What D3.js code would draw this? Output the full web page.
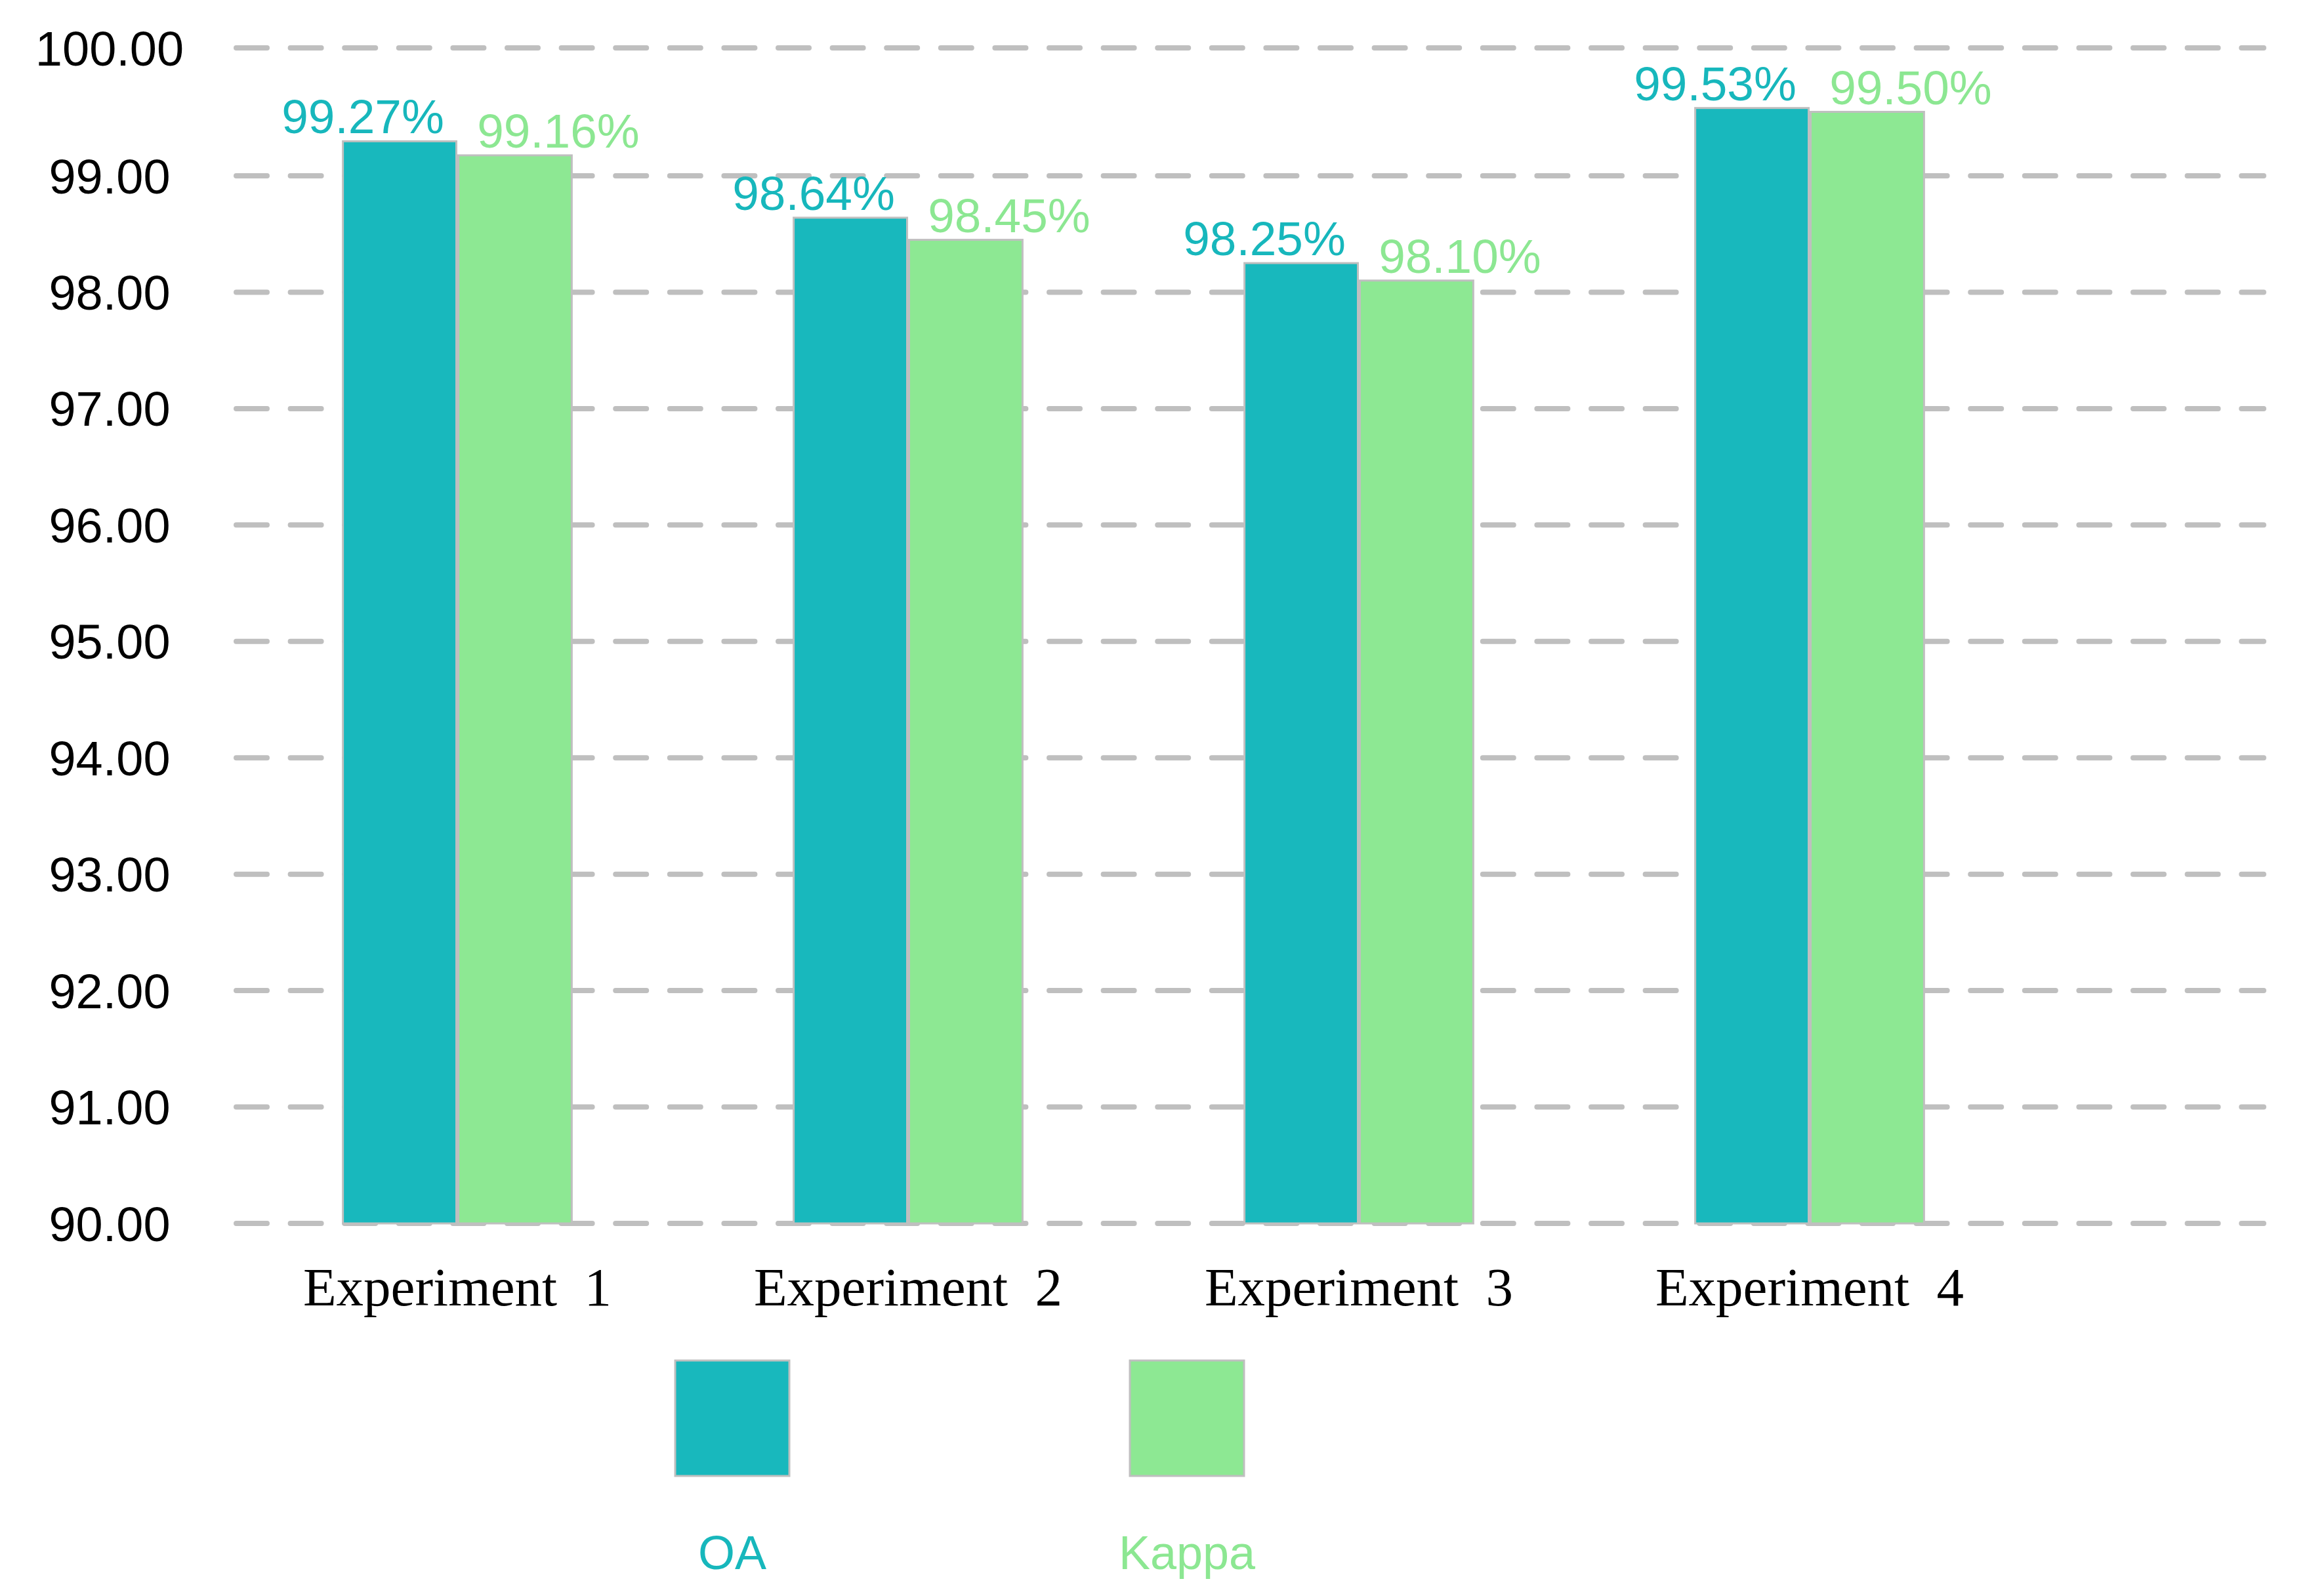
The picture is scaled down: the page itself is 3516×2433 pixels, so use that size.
<!DOCTYPE html>
<html>
<head>
<meta charset="utf-8">
<script src="https://cdn.jsdelivr.net/npm/d3@7"></script>
<style>
  html, body { margin: 0; padding: 0; background: #ffffff; }
  svg { display: block; }
</style>
</head>
<body>
<svg id="chart" width="3516" height="2433"></svg>
<script>
// ---- data ----
const categories = ["Experiment  1", "Experiment  2", "Experiment  3", "Experiment  4"];
const seriesNames = ["OA", "Kappa"];
const oaValues = [99.27, 98.64, 98.25, 99.53];
const kappaValues = [99.16, 98.45, 98.10, 99.50];
const yTicks = [90, 91, 92, 93, 94, 95, 96, 97, 98, 99, 100];

// ---- styles ----
const colors = { OA: "#18B8BD", Kappa: "#8DE893" };
const labelColors = { OA: "#17B7BC", Kappa: "#8CE792" };
const gridColor = "#BFBFBF";

const W = 3516, H = 2433;
const svg = d3.select("#chart").attr("viewBox", `0 0 ${W} ${H}`);
svg.append("rect").attr("width", W).attr("height", H).attr("fill", "#fff");

// y scale (axis ticks in reference: 90..99 evenly spaced, 100 set a bit further up)
const y = d3.scaleLinear().domain([90, 99, 100]).range([1865, 268, 73]);

// x scale for groups
const x0 = d3.scaleBand().domain(categories)
  .range([353.5, 3101.5]).paddingInner(0.488).paddingOuter(0.244);
const x1 = d3.scaleBand().domain(seriesNames).range([0, x0.bandwidth()]).padding(0);

// gridlines
const gridX0 = 360, gridX1 = 3450;
svg.append("g").selectAll("line").data(yTicks).join("line")
  .attr("x1", gridX0).attr("x2", gridX1)
  .attr("y1", d => y(d)).attr("y2", d => y(d))
  .attr("stroke", gridColor).attr("stroke-width", 8)
  .attr("stroke-linecap", "round").attr("stroke-dasharray", "47 35.6");

// y tick labels
svg.append("g").selectAll("text").data(yTicks).join("text")
  .attr("x", 167).attr("y", d => y(d) + 26.5)
  .attr("text-anchor", "middle")
  .attr("font-family", "'Liberation Sans', Arial, sans-serif")
  .attr("font-size", 74).attr("fill", "#000")
  .text(d => d3.format(".2f")(d));

// bars
const rows = categories.map((c, i) => ({ cat: c, vals: [
  { s: "OA", v: oaValues[i] }, { s: "Kappa", v: kappaValues[i] }] }));

const groups = svg.append("g").selectAll("g").data(rows).join("g")
  .attr("transform", d => `translate(${x0(d.cat)},0)`);

groups.selectAll("rect").data(d => d.vals).join("rect")
  .attr("x", d => x1(d.s) + 1.5)
  .attr("width", x1.bandwidth() - 3)
  .attr("y", d => y(d.v))
  .attr("height", d => y(90) - y(d.v))
  .attr("fill", d => colors[d.s])
  .attr("stroke", gridColor).attr("stroke-width", 3);

// value labels
const labelOffset = { OA: -56, Kappa: 66 };
groups.selectAll("text").data(d => d.vals).join("text")
  .attr("x", d => x1(d.s) + x1.bandwidth() / 2 + labelOffset[d.s])
  .attr("y", d => y(d.v) - 12)
  .attr("text-anchor", "middle")
  .attr("font-family", "'Liberation Sans', Arial, sans-serif")
  .attr("font-size", 73)
  .attr("fill", d => labelColors[d.s])
  .text(d => d3.format(".2f")(d.v) + "%");

// category labels
svg.append("g").selectAll("text").data(categories).join("text")
  .attr("x", d => x0(d) + x0.bandwidth() / 2)
  .attr("y", 1990)
  .attr("text-anchor", "middle")
  .attr("font-family", "'Liberation Serif', 'Times New Roman', serif")
  .attr("font-size", 83)
  .attr("fill", "#000")
  .attr("xml:space", "preserve")
  .style("white-space", "pre")
  .text(d => d);

// legend
const lx = d3.scalePoint().domain(seriesNames).range([1116, 1809]);
const legend = svg.append("g").selectAll("g").data(seriesNames).join("g")
  .attr("transform", d => `translate(${lx(d)},0)`);
legend.append("rect")
  .attr("x", -87).attr("y", 2074).attr("width", 174).attr("height", 176)
  .attr("fill", d => colors[d]).attr("stroke", gridColor).attr("stroke-width", 3);
legend.append("text")
  .attr("x", 0).attr("y", 2392)
  .attr("text-anchor", "middle")
  .attr("font-family", "'Liberation Sans', Arial, sans-serif")
  .attr("font-size", 72)
  .attr("fill", d => labelColors[d])
  .text(d => d);
</script>
</body>
</html>
